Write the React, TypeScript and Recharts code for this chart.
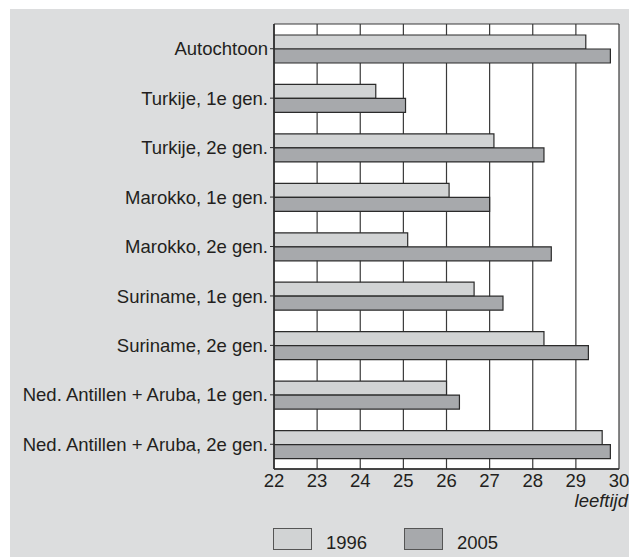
import React from "react";
import {
  BarChart,
  Bar,
  XAxis,
  YAxis,
  CartesianGrid,
  Label,
} from "recharts";

const categories = [
  "Autochtoon",
  "Turkije, 1e gen.",
  "Turkije, 2e gen.",
  "Marokko, 1e gen.",
  "Marokko, 2e gen.",
  "Suriname, 1e gen.",
  "Suriname, 2e gen.",
  "Ned. Antillen + Aruba, 1e gen.",
  "Ned. Antillen + Aruba, 2e gen.",
];

const values1996 = [29.23, 24.36, 27.1, 26.06, 25.1, 26.64, 28.26, 26.0, 29.61];
const values2005 = [29.8, 25.05, 28.26, 27.0, 28.43, 27.31, 29.29, 26.3, 29.8];

const xTicks = [22, 23, 24, 25, 26, 27, 28, 29, 30];

const FONT = '"Liberation Sans", Arial, Helvetica, sans-serif';
const PANEL = "#dcddde";
const LIGHT = "#d1d3d4"; // 1996
const DARK = "#a7a9ac"; // 2005
const INK = "#231f20";
const FS = 18.5;

const data = categories.map((name, i) => ({
  name,
  y1996: values1996[i],
  y2005: values2005[i],
}));

export default function App() {
  return (
    <div
      style={{
        position: "absolute",
        left: 10,
        top: 9,
        width: 619,
        height: 548,
        background: PANEL,
        fontFamily: FONT,
      }}
    >
      <BarChart
        width={619}
        height={548}
        data={data}
        layout="vertical"
        margin={{ top: 15, right: 10, left: 0, bottom: 58 }}
        barSize={14}
        barGap={0}
      >
        <CartesianGrid
          fill="#ffffff"
          stroke="#3a3a3a"
          strokeWidth={1.2}
          horizontalCoordinatesGenerator={({ offset }: any) => [
            offset.top,
            offset.top + offset.height,
          ]}
        />
        <XAxis
          type="number"
          domain={[22, 30]}
          ticks={xTicks}
          allowDataOverflow
          height={30}
          tickLine={false}
          tickSize={0}
          tickMargin={5}
          axisLine={{ stroke: "#2b2b2b", strokeWidth: 1.5 }}
          tick={{ fill: INK, fontSize: FS, fontFamily: FONT }}
        >
          <Label
            content={({ viewBox }: any) => (
              <text
                x={viewBox.x + viewBox.width + 9}
                y={viewBox.y + 38}
                textAnchor="end"
                fill={INK}
                fontSize={FS}
                fontStyle="italic"
                fontFamily={FONT}
              >
                leeftijd
              </text>
            )}
          />
        </XAxis>
        <YAxis
          type="category"
          dataKey="name"
          width={264}
          tickSize={4}
          tickMargin={2}
          interval={0}
          axisLine={{ stroke: "#2b2b2b", strokeWidth: 1.5 }}
          tickLine={{ stroke: "#2b2b2b" }}
          tick={{ fill: INK, fontSize: FS, fontFamily: FONT }}
        />
        <Bar
          dataKey="y1996"
          fill={LIGHT}
          stroke="#2b2b2b"
          strokeWidth={1.2}
          isAnimationActive={false}
        />
        <Bar
          dataKey="y2005"
          fill={DARK}
          stroke="#2b2b2b"
          strokeWidth={1.2}
          isAnimationActive={false}
        />
      </BarChart>

      {[
        { label: "1996", color: LIGHT, left: 263 },
        { label: "2005", color: DARK, left: 394 },
      ].map((item) => (
        <div
          key={item.label}
          style={{
            position: "absolute",
            left: item.left,
            top: 519,
            display: "flex",
            alignItems: "center",
            height: 22,
          }}
        >
          <div
            style={{
              width: 37,
              height: 20,
              background: item.color,
              border: "1px solid #555",
            }}
          />
          <span
            style={{
              marginLeft: 14,
              marginTop: 8,
              fontSize: FS,
              color: INK,
            }}
          >
            {item.label}
          </span>
        </div>
      ))}
    </div>
  );
}
